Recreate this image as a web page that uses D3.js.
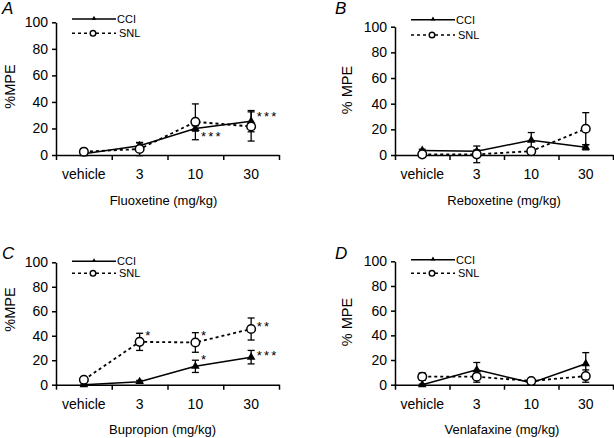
<!DOCTYPE html>
<html><head><meta charset="utf-8">
<script src="https://cdn.jsdelivr.net/npm/d3@7"></script>
<style>
html,body{margin:0;padding:0;background:#fff;}
svg{display:block;font-family:"Liberation Sans",Arial,Helvetica,sans-serif;}
</style></head>
<body>
<svg id="chart" width="614" height="438"></svg>
<script>
// ---------- data ----------
const categories = ["vehicle", "3", "10", "30"];
const yTicks = [0, 20, 40, 60, 80, 100];
const seriesNames = ["CCI", "SNL"];
const drugTitles = ["Fluoxetine (mg/kg)", "Reboxetine (mg/kg)", "Bupropion (mg/kg)", "Venlafaxine (mg/kg)"];
const panelLetters = ["A", "B", "C", "D"];
const yAxisLabels = ["%MPE", "% MPE", "%MPE", "% MPE"];

const fluoxetineCCI = [1, 7, 20, 25.5];
const fluoxetineCCIErr = [1, 2, 2, 8];
const fluoxetineSNL = [2.5, 4.5, 25, 21.5];
const fluoxetineSNLErr = [2, 5, 13.5, 11];

const reboxetineCCI = [3.5, 3, 11.5, 6];
const reboxetineCCIErr = [1, 1, 6, 2];
const reboxetineSNL = [0.5, 0.5, 3, 20.5];
const reboxetineSNLErr = [0.5, 6.5, 2, 12.5];

const bupropionCCI = [0, 2.5, 15, 22.5];
const bupropionCCIErr = [0.5, 1, 5, 5.5];
const bupropionSNL = [4, 35, 34.5, 45.5];
const bupropionSNLErr = [1, 7, 8, 9];

const venlafaxineCCI = [0, 12, 1.5, 17];
const venlafaxineCCIErr = [0.5, 6, 1, 9];
const venlafaxineSNL = [6.5, 6.5, 3, 7];
const venlafaxineSNLErr = [3, 4.5, 1, 5];

// significance marks: category index, text, value level
const fluoxetineStarIdx = [2, 3];
const fluoxetineStarText = ["***", "***"];
const fluoxetineStarVal = [16.3, 31.4];
const bupropionStarIdx = [1, 2, 2, 3, 3];
const bupropionStarText = ["*", "*", "*", "**", "***"];
const bupropionStarVal = [42.5, 42.5, 23, 50, 26];

// ---------- layout ----------
const panels = [
  {cci: fluoxetineCCI, cciErr: fluoxetineCCIErr, snl: fluoxetineSNL, snlErr: fluoxetineSNLErr,
   stars: [fluoxetineStarIdx, fluoxetineStarText, fluoxetineStarVal],
   x0: 56, x1: 279, yTop: 22.3, yBot: 155, legY: [19, 33.3], letterX: 2, letterY: 14, ylx: 15, yly: 86.5, titleDx: -4},
  {cci: reboxetineCCI, cciErr: reboxetineCCIErr, snl: reboxetineSNL, snlErr: reboxetineSNLErr,
   stars: [[], [], []],
   x0: 395, x1: 613, yTop: 26.7, yBot: 155, legY: [19.7, 35], letterX: 335, letterY: 14, ylx: 352, yly: 90, titleDx: 0},
  {cci: bupropionCCI, cciErr: bupropionCCIErr, snl: bupropionSNL, snlErr: bupropionSNLErr,
   stars: [bupropionStarIdx, bupropionStarText, bupropionStarVal],
   x0: 56, x1: 279, yTop: 262.3, yBot: 384.7, legY: [261.3, 273.3], letterX: 2, letterY: 259, ylx: 15, yly: 309.5, titleDx: -5},
  {cci: venlafaxineCCI, cciErr: venlafaxineCCIErr, snl: venlafaxineSNL, snlErr: venlafaxineSNLErr,
   stars: [[], [], []],
   x0: 395, x1: 613, yTop: 261.3, yBot: 384.7, legY: [259.7, 273.3], letterX: 335, letterY: 259, ylx: 352, yly: 322, titleDx: -2}
];

const svg = d3.select("#chart");
const FONT = 13;
const TICKFONT = 14;

panels.forEach((p, pi) => {
  const g = svg.append("g");
  const x = d3.scaleBand().domain(categories).range([p.x0, p.x1]).paddingInner(0).paddingOuter(0);
  const xEdge = d3.scaleLinear().domain([0, categories.length]).range([p.x0, p.x1]);
  const y = d3.scaleLinear().domain([0, 100]).range([p.yBot, p.yTop]);
  const cx = c => x(c) + x.bandwidth() / 2;

  // y axis
  const ya = g.append("g").attr("transform", `translate(${p.x0},0)`)
    .call(d3.axisLeft(y).tickValues(yTicks).tickSize(4).tickPadding(4).tickSizeOuter(0));
  ya.select(".domain").attr("stroke", "#000").attr("stroke-width", 1.5);
  ya.selectAll(".tick line").attr("stroke", "#000").attr("stroke-width", 1.5);
  ya.selectAll("text").attr("font-size", TICKFONT).attr("fill", "#000").attr("font-family", null);

  // x axis: edge ticks
  const xe = g.append("g").attr("transform", `translate(0,${p.yBot})`)
    .call(d3.axisBottom(xEdge).tickValues(d3.range(categories.length + 1)).tickSize(5).tickFormat("").tickSizeOuter(0));
  xe.select(".domain").attr("stroke", "#000").attr("stroke-width", 1.5);
  xe.selectAll(".tick line").attr("stroke", "#000").attr("stroke-width", 1.5);
  // x axis: category labels
  const xl = g.append("g").attr("transform", `translate(0,${p.yBot})`)
    .call(d3.axisBottom(x).tickSize(0).tickPadding(14.5));
  xl.select(".domain").remove();
  xl.selectAll("text").attr("font-size", TICKFONT).attr("fill", "#000").attr("font-family", null);

  // axis titles
  g.append("text").attr("x", (p.x0 + p.x1) / 2 + p.titleDx).attr("y", p.yBot + 49.5)
    .attr("text-anchor", "middle").attr("font-size", FONT).text(drugTitles[pi]);
  g.append("text").attr("transform", `translate(${p.ylx},${p.yly}) rotate(-90)`)
    .attr("text-anchor", "middle").attr("font-size", 14.5).text(yAxisLabels[pi]);

  // panel letter
  g.append("text").attr("x", p.letterX).attr("y", p.letterY)
    .attr("font-size", 17).attr("font-style", "italic").text(panelLetters[pi]);

  // legend
  const lx0 = p.x0 + 16, lx1 = p.x0 + 60;
  g.append("line").attr("x1", lx0).attr("x2", lx1).attr("y1", p.legY[0]).attr("y2", p.legY[0])
    .attr("stroke", "#000").attr("stroke-width", 1.4);
  g.append("path").attr("d", d3.symbol(d3.symbolTriangle).size(9)())
    .attr("transform", `translate(${(lx0 + lx1) / 2},${p.legY[0] - 0.5})`).attr("fill", "#000");
  g.append("text").attr("x", lx1 + 1).attr("y", p.legY[0] + 4).attr("font-size", 11).text(seriesNames[0]);
  g.append("line").attr("x1", lx0).attr("x2", lx1).attr("y1", p.legY[1]).attr("y2", p.legY[1])
    .attr("stroke", "#000").attr("stroke-width", 1.4).attr("stroke-dasharray", "3,3");
  g.append("circle").attr("cx", (lx0 + lx1) / 2 - 1).attr("cy", p.legY[1]).attr("r", 2.8)
    .attr("fill", "#fff").attr("stroke", "#000").attr("stroke-width", 1.4);
  g.append("text").attr("x", lx1 + 3).attr("y", p.legY[1] + 4).attr("font-size", 11).text(seriesNames[1]);

  const line = d3.line().x((d, i) => cx(categories[i])).y(d => y(d));

  // CCI series
  g.append("path").datum(p.cci).attr("d", line).attr("fill", "none")
    .attr("stroke", "#000").attr("stroke-width", 1.5);
  // SNL series
  g.append("path").datum(p.snl).attr("d", line).attr("fill", "none")
    .attr("stroke", "#000").attr("stroke-width", 1.8).attr("stroke-dasharray", "3,3");

  // error bars
  function errBars(vals, errs) {
    vals.forEach((v, i) => {
      const xc = cx(categories[i]);
      const lo = y(v - errs[i]), hi = y(v + errs[i]);
      g.append("line").attr("x1", xc).attr("x2", xc).attr("y1", lo).attr("y2", hi)
        .attr("stroke", "#000").attr("stroke-width", 1.3);
      [lo, hi].forEach(yy => g.append("line").attr("x1", xc - 3.5).attr("x2", xc + 3.5)
        .attr("y1", yy).attr("y2", yy).attr("stroke", "#000").attr("stroke-width", 1.3));
    });
  }
  errBars(p.cci, p.cciErr);
  errBars(p.snl, p.snlErr);

  // markers
  g.selectAll(".tri").data(p.cci).enter().append("path")
    .attr("d", d3.symbol(d3.symbolTriangle).size(32)())
    .attr("transform", (d, i) => `translate(${cx(categories[i])},${y(d)})`).attr("fill", "#000");
  g.selectAll(".circ").data(p.snl).enter().append("circle")
    .attr("cx", (d, i) => cx(categories[i])).attr("cy", d => y(d)).attr("r", 4.3)
    .attr("fill", "#fff").attr("stroke", "#000").attr("stroke-width", 1.5);

  // significance stars
  const [si, st, sv] = p.stars;
  si.forEach((ci, k) => {
    g.append("text").attr("x", cx(categories[ci]) + 5.5).attr("y", y(sv[k]) + 7.5)
      .attr("font-size", 13).attr("letter-spacing", 2.3).text(st[k]);
  });
});
</script>
</body></html>
